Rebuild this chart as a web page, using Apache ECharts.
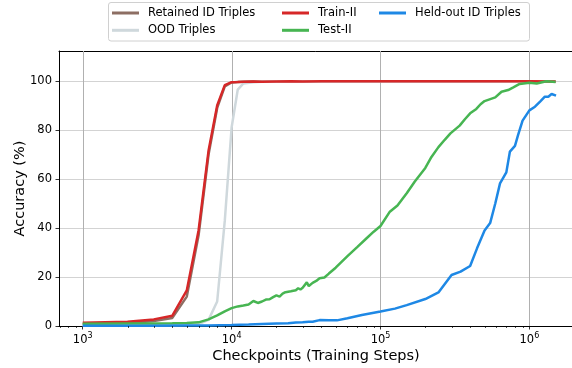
<!DOCTYPE html>
<html>
<head>
<meta charset="utf-8">
<script src="https://cdn.jsdelivr.net/npm/echarts@6/dist/echarts.min.js"></script>
<style>
  html, body { margin: 0; padding: 0; background: #fff; }
  #chart { width: 572px; height: 368px; }
</style>
</head>
<body>
<div id="chart"></div>
<script>
// Training-step checkpoints shared by the fast-converging curves
const earlySteps = [1000, 2000, 3000, 4000, 5000, 6000, 7000, 8000, 9000, 10000, 11000, 12000, 14000, 16000, 20000, 25000, 30000, 40000, 50000, 70000, 100000, 150000, 200000, 300000, 500000, 700000, 1000000, 1500000];
const retainedId = [0.6, 1.1, 2.0, 3.3, 12.0, 37.0, 70.0, 89.0, 97.8, 99.4, 99.6, 99.7, 99.8, 99.7, 99.8, 99.9, 99.8, 99.9, 99.9, 99.9, 99.9, 99.9, 99.9, 99.9, 99.9, 99.9, 99.9, 99.8];
const oodTriples = [0.2, 0.2, 0.3, 0.3, 0.4, 0.8, 2.5, 10.0, 43.0, 81.0, 96.5, 99.0, 99.5, 99.7, 99.8, 99.8, 99.8, 99.9, 99.9, 99.9, 99.9, 99.9, 99.9, 99.9, 99.9, 99.9, 99.9, 99.8];
const trainII = [1.3, 1.7, 2.7, 4.2, 14.5, 39.0, 71.5, 90.0, 98.3, 99.5, 99.6, 99.7, 99.8, 99.7, 99.8, 99.9, 99.8, 99.9, 99.9, 99.9, 99.9, 99.9, 99.9, 99.9, 99.9, 99.9, 99.9, 99.8];

// Test-II accuracy
const testSteps = [1000, 2000, 3000, 4000, 5000, 6000, 7000, 8000, 9000, 10000, 11000, 12000, 13000, 14000, 15000, 16000, 17000, 18000, 19000, 20000, 21000, 22000, 23000, 25000, 27000, 28000, 29000, 30000, 32000, 33000, 35000, 37000, 39000, 40000, 42000, 45000, 50000, 60000, 70000, 80000, 90000, 100000, 115000, 130000, 150000, 170000, 200000, 220000, 245000, 270000, 295000, 340000, 370000, 400000, 440000, 470000, 500000, 590000, 650000, 720000, 780000, 860000, 1000000, 1120000, 1300000, 1500000];
const testII = [0.9, 1.0, 1.0, 1.1, 1.2, 1.5, 2.7, 4.3, 6.0, 7.3, 8.0, 8.4, 8.8, 10.2, 9.4, 10.0, 10.8, 10.9, 11.8, 12.5, 12.0, 13.2, 13.8, 14.2, 14.6, 15.4, 14.9, 15.6, 17.8, 16.3, 17.6, 18.4, 19.5, 18.9, 19.8, 21.4, 23.8, 28.5, 32.3, 35.6, 38.5, 40.8, 46.5, 49.2, 54.2, 59.0, 64.5, 69.0, 73.0, 76.0, 78.6, 81.8, 84.5, 86.8, 88.6, 90.5, 91.8, 93.3, 95.6, 96.3, 97.4, 98.8, 99.3, 99.0, 99.9, 99.6];

// Held-out ID triples accuracy
const heldSteps = [1000, 2000, 3000, 5000, 7000, 10000, 13000, 16000, 20000, 24000, 27000, 30000, 33000, 35000, 36000, 39000, 45000, 51000, 60000, 75000, 100000, 125000, 150000, 200000, 245000, 300000, 345000, 400000, 445000, 500000, 545000, 590000, 635000, 700000, 740000, 800000, 840000, 900000, 1000000, 1090000, 1180000, 1270000, 1340000, 1410000, 1450000, 1510000];
const heldOut = [0.1, 0.1, 0.1, 0.2, 0.2, 0.4, 0.6, 0.8, 1.0, 1.1, 1.4, 1.5, 1.7, 1.7, 2.3, 2.4, 2.3, 2.3, 3.2, 4.5, 5.9, 7.1, 8.5, 11.0, 13.7, 20.8, 22.2, 24.5, 31.7, 39.0, 42.0, 50.0, 58.2, 62.7, 71.2, 73.5, 78.0, 83.8, 88.0, 89.5, 91.6, 93.6, 93.6, 94.7, 94.3, 94.0];

// Axis ranges and ticks
const stepRange = [693, 1963000];
const accRange = [0, 112.24];
const decadeTicks = [1000, 10000, 100000, 1000000];
const accTicks = [0, 20, 40, 60, 80, 100];

const FONT = 'DejaVu Sans';
const log10 = Math.log10;
const pairs = (steps, vals) => steps.map((s, i) => [log10(s), vals[i]]);

// minor ticks at 2..9 x 10^n inside the visible range
const minorSteps = [];
for (let e = 2; e <= 6; e++) {
  for (let m = 2; m <= 9; m++) {
    const v = m * Math.pow(10, e);
    if (v > stepRange[0] && v < stepRange[1]) minorSteps.push(v);
  }
}

const curves = [
  { name: 'Retained ID Triples', color: '#8d6e63', steps: earlySteps, vals: retainedId },
  { name: 'OOD Triples', color: '#cfd8dc', steps: earlySteps, vals: oodTriples },
  { name: 'Train-II', color: '#d62728', steps: earlySteps, vals: trainII },
  { name: 'Test-II', color: '#47b552', steps: testSteps, vals: testII },
  { name: 'Held-out ID Triples', color: '#1e88e5', steps: heldSteps, vals: heldOut }
];

const legendBase = {
  orient: 'vertical',
  top: 6.5,
  padding: 0,
  itemWidth: 27,
  itemHeight: 3,
  itemGap: 4.3,
  icon: 'rect',
  selectedMode: false,
  textStyle: { fontFamily: FONT, fontSize: 11.5, color: '#000', lineHeight: 13, padding: [0, 0, 0, 4] }
};

const chart = echarts.init(document.getElementById('chart'), null, { renderer: 'canvas' });

chart.setOption({
  animation: false,
  backgroundColor: '#fff',
  grid: { left: 59, right: -1, top: 51, bottom: 42, outerBoundsMode: 'none', containLabel: false },
  graphic: [{
    type: 'rect',
    z: -1,
    shape: { x: 108.5, y: 2.5, width: 421, height: 38.5, r: 2.5 },
    style: { fill: '#fff', stroke: '#d0d0d0', lineWidth: 1 }
  }],
  legend: [
    Object.assign({}, legendBase, { left: 112, data: ['Retained ID Triples', 'OOD Triples'] }),
    Object.assign({}, legendBase, { left: 282, data: ['Train-II', 'Test-II'] }),
    Object.assign({}, legendBase, { left: 379, data: ['Held-out ID Triples'] })
  ],
  xAxis: [{
    type: 'value',
    min: log10(stepRange[0]),
    max: log10(stepRange[1]),
    name: 'Checkpoints (Training Steps)',
    nameLocation: 'middle',
    nameGap: 23,
    nameMoveOverlap: false,
    nameTextStyle: { fontFamily: FONT, fontSize: 14.5, color: '#000' },
    axisLine: { show: true, onZero: false, lineStyle: { color: '#000', width: 1 } },
    axisTick: { show: true, length: 3.5, customValues: decadeTicks.map(log10), lineStyle: { color: '#000', width: 0.8 } },
    axisLabel: {
      margin: 6,
      customValues: decadeTicks.map(log10),
      formatter: v => '{b|10}{s|' + Math.round(v) + '}',
      rich: {
        b: { fontFamily: FONT, fontSize: 11.5, color: '#000', lineHeight: 14, verticalAlign: 'bottom' },
        s: { fontFamily: FONT, fontSize: 8, color: '#000', lineHeight: 8, verticalAlign: 'top' }
      }
    },
    splitLine: { show: false }
  }, {
    type: 'value',
    position: 'top',
    min: log10(stepRange[0]),
    max: log10(stepRange[1]),
    axisLine: { show: true, onZero: false, lineStyle: { color: '#000', width: 1 } },
    axisTick: { show: false },
    axisLabel: { show: false },
    splitLine: { show: false }
  }],
  yAxis: {
    type: 'value',
    min: accRange[0],
    max: accRange[1],
    interval: 20,
    name: 'Accuracy (%)',
    nameLocation: 'middle',
    nameGap: 31,
    nameMoveOverlap: false,
    nameTextStyle: { fontFamily: FONT, fontSize: 14.5, color: '#000' },
    axisLine: { show: true, onZero: false, lineStyle: { color: '#000', width: 1 } },
    axisTick: { show: true, length: 3.5, customValues: accTicks, lineStyle: { color: '#000', width: 0.8 } },
    axisLabel: { margin: 7, customValues: accTicks, fontFamily: FONT, fontSize: 11.5, color: '#000' },
    splitLine: { show: true, lineStyle: { color: '#d3d3d3', width: 1 } }
  },
  series: [
    {
      type: 'custom',
      name: 'decade-grid',
      z: 1,
      silent: true,
      data: decadeTicks.map(s => [log10(s), 0]),
      renderItem: (params, api) => {
        const p0 = api.coord([api.value(0), accRange[0]]);
        const p1 = api.coord([api.value(0), accRange[1]]);
        const x = Math.round(p0[0]) + 0.5;
        return { type: 'line', shape: { x1: x, y1: p0[1], x2: x, y2: p1[1] }, style: { stroke: '#b0b0b0', lineWidth: 1 } };
      }
    },
    {
      type: 'custom',
      name: 'minor-ticks',
      z: 3,
      silent: true,
      data: minorSteps.map(s => [log10(s), 0]),
      renderItem: (params, api) => {
        const p = api.coord([api.value(0), accRange[0]]);
        const x = Math.round(p[0]) + 0.5;
        return { type: 'line', shape: { x1: x, y1: p[1], x2: x, y2: p[1] + 2 }, style: { stroke: '#000', lineWidth: 0.7 } };
      }
    }
  ].concat(curves.map(c => ({
    type: 'line',
    name: c.name,
    z: 2,
    data: pairs(c.steps, c.vals),
    showSymbol: false,
    symbol: 'none',
    color: c.color,
    lineStyle: { color: c.color, width: 2.5 },
    emphasis: { disabled: true }
  })))
});
</script>
</body>
</html>
